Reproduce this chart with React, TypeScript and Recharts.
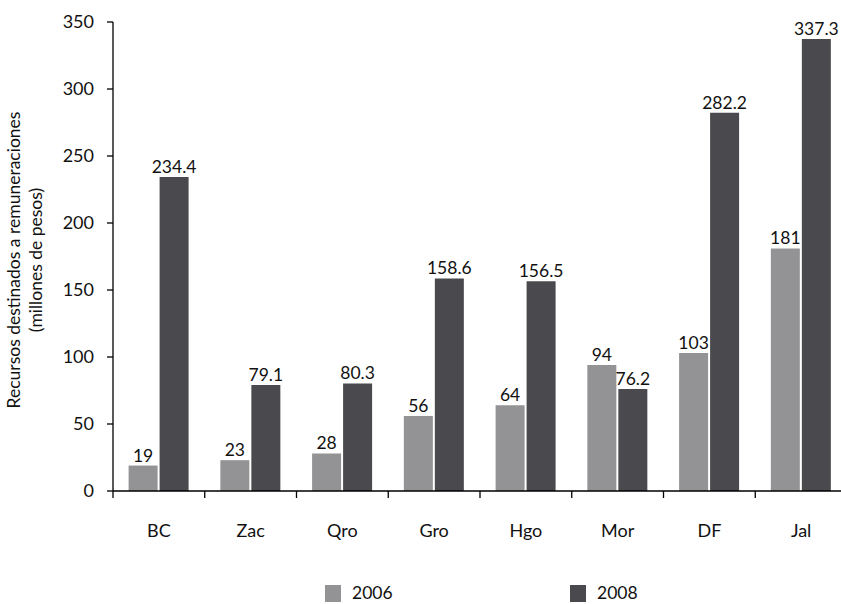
import React from "react";
import { BarChart, Bar, XAxis, YAxis, LabelList } from "recharts";

const states = ["BC", "Zac", "Qro", "Gro", "Hgo", "Mor", "DF", "Jal"];
const values2006 = [19, 23, 28, 56, 64, 94, 103, 181];
const values2008 = [234.4, 79.1, 80.3, 158.6, 156.5, 76.2, 282.2, 337.3];
const yTicks = [0, 50, 100, 150, 200, 250, 300, 350];

const COLOR_2006 = "#939396";
const COLOR_2008 = "#4a4a4e";
const FONT = "Lato, 'Open Sans', sans-serif";

const data = states.map((s, i) => ({ state: s, y2006: values2006[i], y2008: values2008[i] }));

const XTick = (props: any) => {
  const { x, y, payload } = props;
  const half = payload && payload.offset ? payload.offset : 45.8;
  return (
    <g>
      <line x1={x - half} y1={y} x2={x - half} y2={y + 7} stroke="#000" strokeWidth={1.3} />
      <text x={x} y={y + 46} textAnchor="middle" fontSize={18} fill="#111" fontFamily={FONT}>
        {payload.value}
      </text>
    </g>
  );
};

const YTitle = (props: any) => {
  const cx = 24;
  const cy = 260;
  return (
    <g transform={`translate(${cx},${cy}) rotate(-90)`}>
      <text x={0} y={-11} textAnchor="middle" dominantBaseline="central" fontSize={17.5} fill="#111" fontFamily={FONT}>
        Recursos destinados a remuneraciones
      </text>
      <text x={0} y={11} textAnchor="middle" dominantBaseline="central" fontSize={17.5} fill="#111" fontFamily={FONT}>
        (millones de pesos)
      </text>
    </g>
  );
};

const App: React.FC = () => {
  return (
    <div style={{ position: "absolute", left: 0, top: 0, width: 841, height: 604, overflow: "hidden", background: "#fff", fontFamily: FONT }}>
      <BarChart
        width={850}
        height={604}
        data={data}
        margin={{ top: 22, right: 3, left: 53, bottom: 83 }}
        barCategoryGap="17%"
        barGap={2}
      >
        <XAxis
          dataKey="state"
          height={30}
          axisLine={{ stroke: "#000", strokeWidth: 1.3 }}
          tickLine={false}
          tickSize={0}
          tickMargin={0}
          tick={<XTick />}
          interval={0}
        />
        <YAxis
          width={60}
          domain={[0, 350]}
          ticks={yTicks}
          interval={0}
          axisLine={{ stroke: "#000", strokeWidth: 1.3 }}
          tickLine={{ stroke: "#000", strokeWidth: 1.3 }}
          tickSize={6}
          tickMargin={13}
          tick={{ fontSize: 18, fill: "#111", fontFamily: FONT }}
          label={<YTitle />}
        />
        <Bar dataKey="y2006" fill={COLOR_2006} isAnimationActive={false}>
          <LabelList dataKey="y2006" position="top" offset={4} fontSize={17.5} fill="#111" fontFamily={FONT} />
        </Bar>
        <Bar dataKey="y2008" fill={COLOR_2008} isAnimationActive={false}>
          <LabelList dataKey="y2008" position="top" offset={4} fontSize={17.5} fill="#111" fontFamily={FONT} />
        </Bar>
      </BarChart>
      <div style={{ position: "absolute", left: 325, top: 585, width: 16, height: 17, background: COLOR_2006 }} />
      <div style={{ position: "absolute", left: 352, top: 581, fontSize: 17.5, color: "#111", lineHeight: "24px" }}>2006</div>
      <div style={{ position: "absolute", left: 570, top: 585, width: 16, height: 17, background: COLOR_2008 }} />
      <div style={{ position: "absolute", left: 597, top: 581, fontSize: 17.5, color: "#111", lineHeight: "24px" }}>2008</div>
    </div>
  );
};

export default App;
